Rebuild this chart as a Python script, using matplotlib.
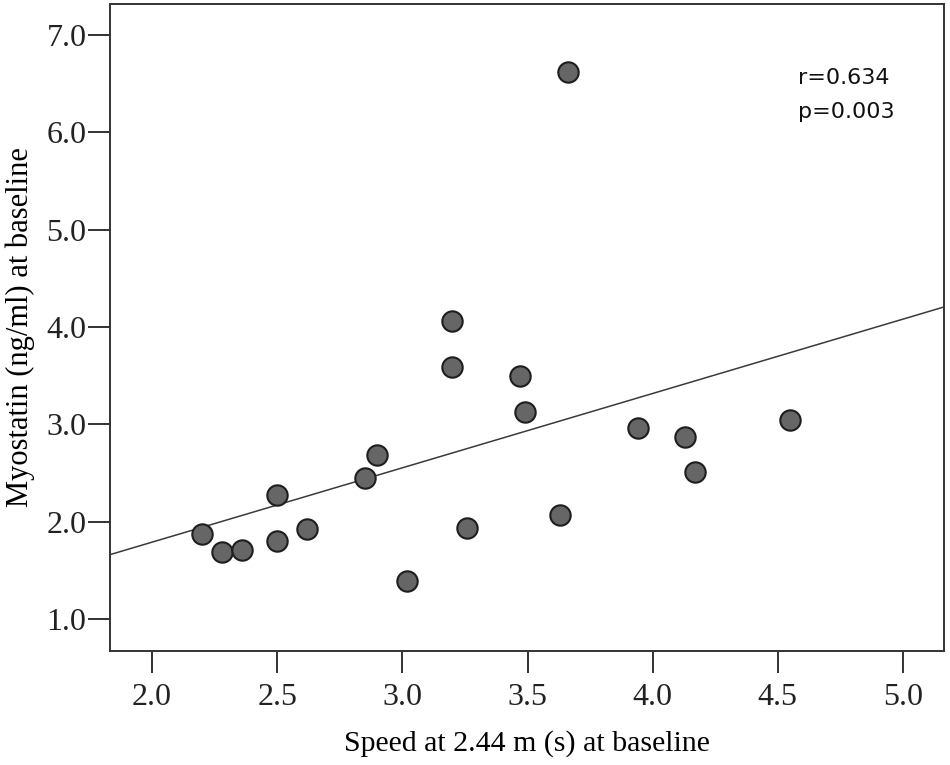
import numpy as np
import matplotlib
matplotlib.use("Agg")
import matplotlib.pyplot as plt

speed = [2.20, 2.28, 2.36, 2.50, 2.50, 2.62, 2.85, 2.90, 3.02, 3.20,
         3.20, 3.26, 3.47, 3.49, 3.63, 3.66, 3.94, 4.13, 4.17, 4.55]
myostatin = [1.87, 1.69, 1.71, 2.27, 1.80, 1.92, 2.45, 2.68, 1.39, 4.06,
             3.59, 1.93, 3.50, 3.13, 2.07, 6.62, 2.96, 2.87, 2.51, 3.04]
xticks = [2.0, 2.5, 3.0, 3.5, 4.0, 4.5, 5.0]
yticks = [1.0, 2.0, 3.0, 4.0, 5.0, 6.0, 7.0]
r_text = "r=0.634"
p_text = "p=0.003"

plt.rcParams['font.family'] = ['Liberation Serif', 'DejaVu Serif']

W, H = 950, 765
L, R, T, B = 110, 944, 4, 651
fig = plt.figure(figsize=(W / 100, H / 100), dpi=100)
ax = fig.add_axes([L / W, 1 - B / H, (R - L) / W, (B - T) / H])

ax.set_xlim(1.832, 5.164)
ax.set_ylim(0.671, 7.318)

ax.scatter(speed, myostatin, s=215, facecolor='#666666', edgecolor='#1e1e1e',
           linewidth=1.5, zorder=3)

slope, intercept = np.polyfit(speed, myostatin, 1)
xl = np.array(ax.get_xlim())
ax.plot(xl, slope * xl + intercept, color='#3a3a3a', linewidth=1.1, zorder=2)

ax.set_xticks(xticks)
ax.set_xticklabels([f"{t:.1f}" for t in xticks])
ax.set_yticks(yticks)
ax.set_yticklabels([f"{t:.1f}" for t in yticks])
ax.tick_params(direction='out', length=16, width=1.3, labelsize=23, colors='#222222')
ax.tick_params(axis='y', pad=1)
ax.tick_params(axis='x', pad=7)
for s in ax.spines.values():
    s.set_linewidth(1.4)
    s.set_color('#333333')

ax.set_xlabel("Speed at 2.44 m (s) at baseline", fontsize=21.5, labelpad=13)
ax.set_ylabel("Myostatin (ng/ml) at baseline", fontsize=22, labelpad=8)

ax.text(0.825, 0.886, r_text, transform=ax.transAxes, fontsize=16,
        family=['DejaVu Sans'], va='center', ha='left', color='#111111')
ax.text(0.825, 0.833, p_text, transform=ax.transAxes, fontsize=16,
        family=['DejaVu Sans'], va='center', ha='left', color='#111111')

fig.savefig("out.png", dpi=100)
